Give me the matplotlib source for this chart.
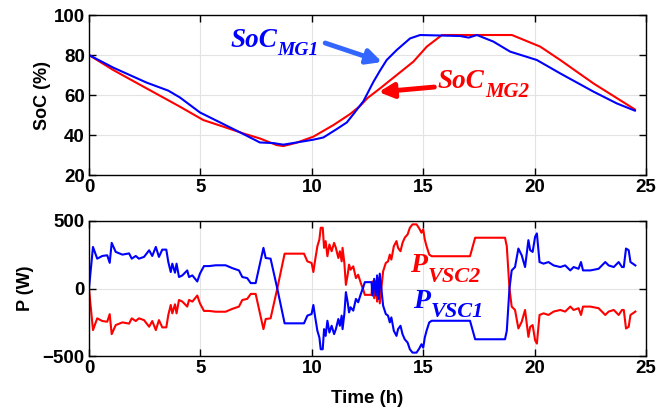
import matplotlib
matplotlib.use('Agg')
import matplotlib.pyplot as plt

soc_blue = '#0000ff'
soc_red = '#ff0000'

# SoC curves (%)
t_soc1 = [0, 1.09, 2.59, 3.56, 4.08, 4.98, 6.03, 6.93, 7.67, 8.27, 8.72, 9.32, 10.07, 10.52,
          11.12, 11.57, 11.87, 12.32, 12.76, 13.06, 13.36, 13.81, 14.41, 14.86, 16.66, 17.04,
          17.41, 18.15, 18.9, 20.1, 21.15, 22.64, 23.69, 24.5]
soc_mg1 = [80, 73.7, 66.2, 62.2, 58.8, 51.3, 45.5, 40.5, 36.3, 36, 35.2, 36.3, 37.7, 38.8,
           43, 46.3, 50.5, 57, 66.5, 72.2, 77.5, 82.5, 88.3, 90, 89.5, 88.7,
           90, 86.7, 81.7, 77.5, 70.8, 61.7, 55.8, 52.2]

t_soc2 = [0, 1.09, 2.59, 4.08, 5.13, 6.03, 6.93, 7.67, 8.42, 8.72, 9.32, 10.07, 10.97, 11.72,
          12.16, 12.5, 13.06, 13.81, 14.56, 15.16, 15.84, 18.98, 20.25, 21.15, 22.64, 24.5]
soc_mg2 = [80, 72.5, 63.3, 54.2, 47.5, 44.2, 40.8, 38.3, 35, 34.5, 36.2, 39.2, 45, 50.5,
           54.5, 58.5, 63.3, 70, 76.7, 84.2, 90, 90, 84.2, 77.5, 65.8, 52.8]

# converter powers (W)
t_p = [0, 0.18, 0.37, 0.6, 0.82, 0.93, 1.02, 1.2, 1.5, 1.8, 1.92, 2.1, 2.24, 2.47, 2.7, 2.84,
       3.0, 3.14, 3.29, 3.47, 3.56, 3.67, 3.74, 3.86, 3.93, 4.04, 4.19, 4.41, 4.49, 4.64, 4.86,
       4.98, 5.16, 5.39, 5.69, 6.13, 6.43, 6.73, 6.88, 7.1, 7.26, 7.48, 7.83, 7.93, 8.15, 8.45,
       8.78, 9.65, 9.8, 9.99, 10.07, 10.14, 10.25, 10.34, 10.4, 10.49, 10.55, 10.62, 10.7, 10.79,
       10.89, 11.0, 11.08, 11.19, 11.26, 11.34, 11.38, 11.46, 11.53, 11.61, 11.67, 11.74, 11.86,
       11.98, 12.08, 12.2, 12.31, 12.38, 12.68, 12.72, 12.8, 12.87, 12.93, 13.0, 13.05, 13.12,
       13.2, 13.32, 13.42, 13.5, 13.57, 13.68, 13.8, 13.87, 13.98, 14.07, 14.17, 14.3, 14.4,
       14.52, 14.7, 14.82, 14.92, 15.0, 15.07, 15.15, 15.27, 15.38, 17.1, 17.33, 18.67, 18.75,
       18.87, 18.97, 19.12, 19.27, 19.42, 19.57, 19.72, 19.8, 19.91, 20.02, 20.1, 20.22, 20.4,
       20.62, 20.85, 21.15, 21.37, 21.6, 21.75, 21.97, 22.08, 22.17, 22.5, 22.87, 23.17, 23.32,
       23.55, 23.77, 23.92, 24.0, 24.1, 24.22, 24.3, 24.52]
p_vsc1 = [0, 308, 221, 241, 246, 190, 338, 271, 251, 260, 221, 241, 221, 234, 283, 241,
          308, 234, 288, 288, 196, 122, 184, 117, 184, 85, 97, 134, 85, 97, 52,
          110, 166, 166, 172, 172, 151, 134, 85, 77, 40, 40, 301, 226, 221, 0,
          -258, -258, -201, -189, -122, -201, -313, -363, -450, -450, -301, -351, -239, -326,
          -276, -338, -301, -226, -276, -201, -301, -189, -27, -102, -177, -139, -164,
          -77, -102, -40, 10, 47, 47, -52, 72, -52, 97, -77, 110, 0,
          -127, -189, -201, -251, -214, -313, -351, -301, -276, -338, -376, -401, -450,
          -475, -475, -445, -413, -438, -363, -313, -251, -239, -239, -376, -376, -313,
          0, 134, 159, 296, 246, 159, 358, 284, 271, 383, 408, 196, 184,
          196, 171, 159, 171, 134, 159, 146, 196, 134, 134, 146, 196, 171,
          159, 196, 159, 159, 296, 284, 196, 171]
p_vsc2 = [0, -308, -221, -241, -246, -190, -338, -271, -251, -260, -221, -241, -221, -234, -283, -241,
          -308, -234, -288, -288, -196, -122, -184, -117, -184, -85, -97, -134, -85, -97, -52,
          -110, -166, -166, -172, -172, -151, -134, -85, -77, -40, -40, -301, -226, -221, 0,
          258, 258, 201, 189, 122, 201, 313, 363, 450, 450, 301, 351, 239, 326,
          276, 338, 301, 226, 276, 201, 301, 189, 27, 102, 177, 139, 164,
          77, 102, 40, -10, -47, -47, 52, -72, 52, -97, 77, -110, 0,
          127, 189, 201, 251, 214, 313, 351, 301, 276, 338, 376, 401, 450,
          475, 475, 445, 413, 438, 363, 313, 251, 239, 239, 376, 376, 313,
          0, -134, -159, -296, -246, -159, -358, -284, -271, -383, -408, -196, -184,
          -196, -171, -159, -171, -134, -159, -146, -196, -134, -134, -146, -196, -171,
          -159, -196, -159, -159, -296, -284, -196, -171]

x_ticks = [0, 5, 10, 15, 20, 25]
soc_ticks = [20, 40, 60, 80, 100]
p_ticks = [-500, 0, 500]

plt.rcParams['font.family'] = 'Liberation Sans'
plt.rcParams['font.weight'] = 'bold'

fig = plt.figure(figsize=(6.72, 4.11), dpi=100)
ax1 = fig.add_axes([0.1324, 0.574, 0.829, 0.3895])
ax2 = fig.add_axes([0.1324, 0.1338, 0.829, 0.3285])

ax1.plot(t_soc2, soc_mg2, color=soc_red, lw=1.5)
ax1.plot(t_soc1, soc_mg1, color=soc_blue, lw=1.5)
ax1.set_ylim(20, 100)
ax1.set_yticks(soc_ticks)
ax1.set_ylabel('SoC (%)', fontsize=13, fontweight='bold', labelpad=2)

ax2.plot(t_p, p_vsc2, color=soc_red, lw=1.5)
ax2.plot(t_p, p_vsc1, color=soc_blue, lw=1.5)
ax2.set_ylim(-500, 500)
ax2.set_yticks(p_ticks)
ax2.set_ylabel('P (W)', fontsize=13, fontweight='bold', labelpad=6)
ax2.set_xlabel('Time (h)', fontsize=13.5, fontweight='bold', labelpad=9)

for ax in (ax1, ax2):
    ax.set_xlim(0, 25)
    ax.set_xticks(x_ticks)
    ax.grid(True, color='#e3e3e3', lw=0.8)
    ax.tick_params(direction='in', top=True, right=True, length=5, width=1,
                   labelsize=13.5, pad=3)
    for lab in ax.get_xticklabels() + ax.get_yticklabels():
        lab.set_fontweight('bold')
    for sp in ax.spines.values():
        sp.set_linewidth(1)

renderer = fig.canvas.get_renderer()


def sub_label(ax, x, y, main, sub, color, size, subsize, drop):
    t = ax.text(x, y, main, color=color, fontsize=size, family='Liberation Serif',
                style='italic', weight='bold', ha='left', va='baseline')
    w = t.get_window_extent(renderer).width * 72 / fig.dpi
    ax.annotate(sub, xy=(x, y), xytext=(w + 0.5, -drop), textcoords='offset points',
                color=color, fontsize=subsize, family='Liberation Serif',
                style='italic', weight='bold', ha='left', va='baseline')


sub_label(ax1, 6.33, 84, 'SoC', 'MG1', soc_blue, 19.5, 14, 6)
ax1.annotate('', xy=(13.15, 76.5), xytext=(10.6, 86),
             arrowprops=dict(arrowstyle='-|>', color='#3366ff', lw=3.5, mutation_scale=22,
                             shrinkA=0, shrinkB=0))
sub_label(ax1, 15.66, 63.5, 'SoC', 'MG2', soc_red, 19.5, 15, 6.5)
ax1.annotate('', xy=(13.0, 61.5), xytext=(15.5, 64),
             arrowprops=dict(arrowstyle='-|>', color=soc_red, lw=3.5, mutation_scale=22,
                             shrinkA=0, shrinkB=0))

sub_label(ax2, 14.41, 119, 'P', 'VSC2', soc_red, 20, 16, 7)
sub_label(ax2, 14.54, -142, 'P', 'VSC1', soc_blue, 20, 16, 7)

fig.savefig('out.png', dpi=100)
